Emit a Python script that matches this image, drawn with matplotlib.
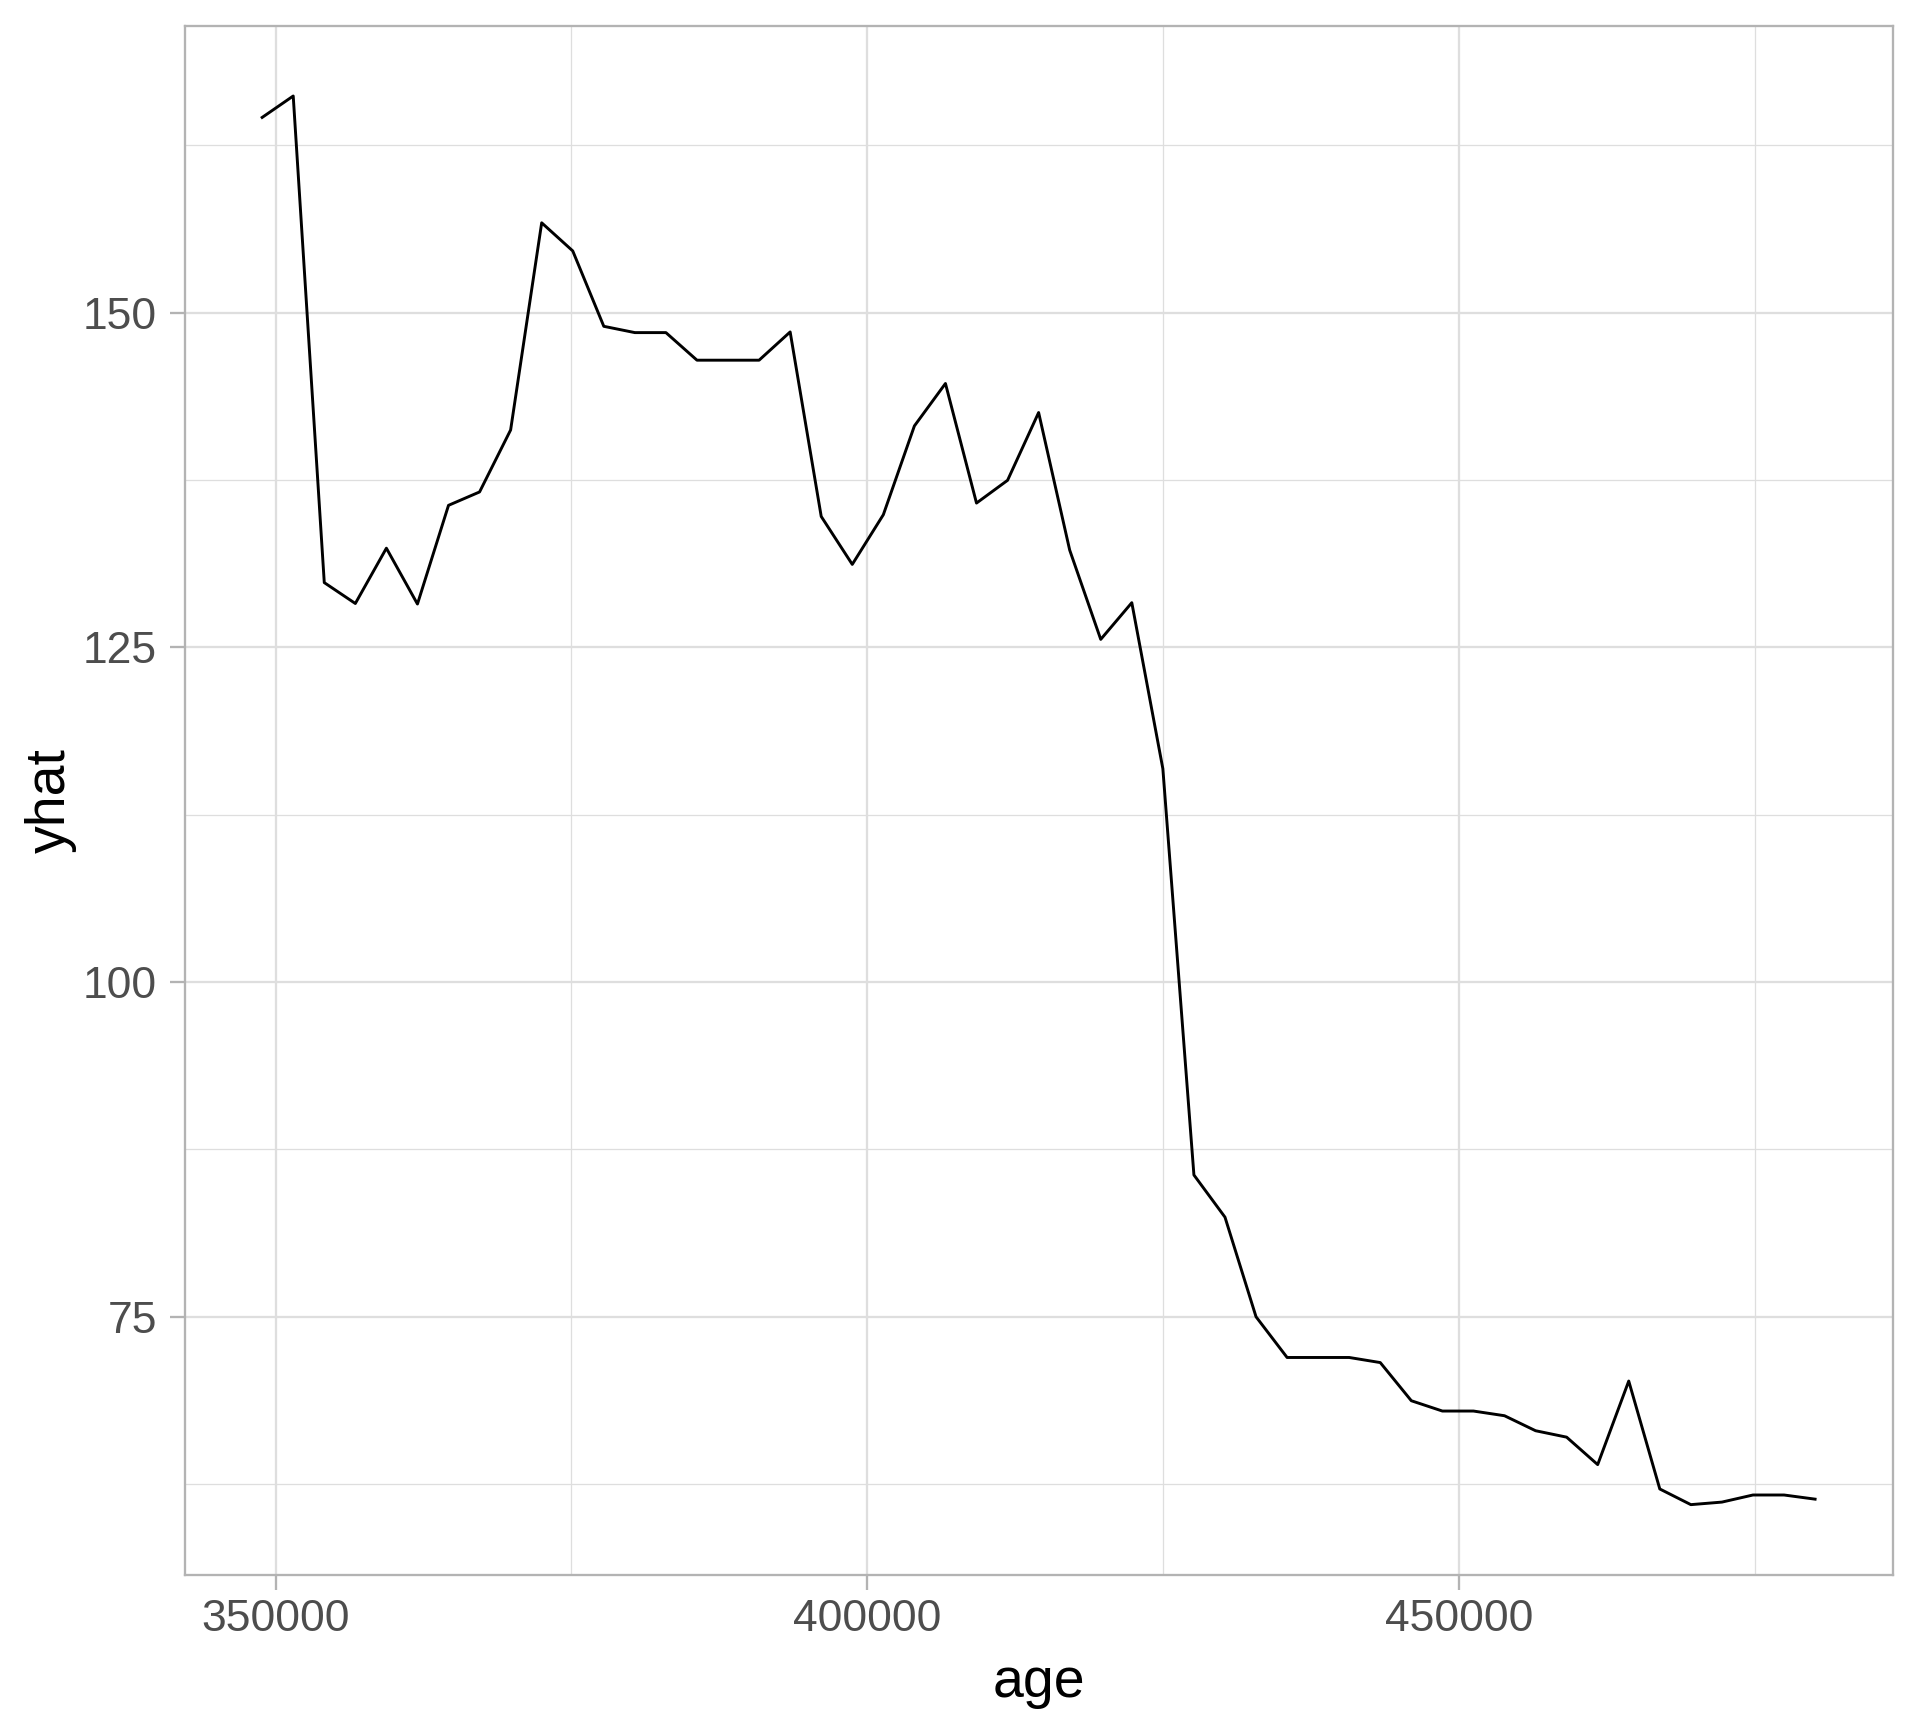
import matplotlib
matplotlib.use("Agg")
import matplotlib.pyplot as plt
import numpy as np

# values
age = [348860, 351485, 354110, 356735, 359360, 361985, 364610, 367235, 369860, 372485,
       375110, 377735, 380360, 382985, 385610, 388235, 390860, 393485, 396110, 398735,
       401360, 403985, 406610, 409235, 411860, 414485, 417110, 419735, 422360, 424985,
       427610, 430235, 432860, 435485, 438110, 440735, 443360, 445985, 448610, 451235,
       453860, 456485, 459110, 461735, 464360, 466985, 469610, 472235, 474860, 477485,
       480110]
yhat = [164.57, 166.17, 129.83, 128.27, 132.40, 128.23, 135.60, 136.60, 141.23, 156.70,
        154.60, 148.97, 148.50, 148.50, 146.44, 146.44, 146.44, 148.55, 134.77, 131.19,
        134.90, 141.53, 144.70, 135.77, 137.47, 142.53, 132.26, 125.59, 128.33, 115.93,
        85.59, 82.44, 75.00, 71.96, 71.96, 71.96, 71.58, 68.73, 67.96, 67.96,
        67.61, 66.49, 66.01, 63.96, 70.20, 62.14, 60.97, 61.16, 61.69, 61.69,
        61.38]

x_ticks = [350000, 400000, 450000]
x_minor = [375000, 425000, 475000]
y_ticks = [75, 100, 125, 150]
y_minor = [62.5, 87.5, 112.5, 137.5, 162.5]

plt.rcParams['font.family'] = ['Liberation Sans', 'DejaVu Sans']

fig = plt.figure(figsize=(6.4, 5.76), dpi=300)
ax = fig.add_axes([0.0961, 0.0885, 0.8897, 0.8967])

# ggplot style 5% expansion
xr = max(age) - min(age)
yr = max(yhat) - min(yhat)
ax.set_xlim(min(age) - 0.05 * xr, max(age) + 0.05 * xr)
ax.set_ylim(min(yhat) - 0.05 * yr, max(yhat) + 0.05 * yr)

grid_col = '#DEDEDE'
for v in x_minor:
    ax.axvline(v, color=grid_col, lw=0.3, zorder=0)
for v in y_minor:
    ax.axhline(v, color=grid_col, lw=0.3, zorder=0)
for v in x_ticks:
    ax.axvline(v, color=grid_col, lw=0.55, zorder=0)
for v in y_ticks:
    ax.axhline(v, color=grid_col, lw=0.55, zorder=0)

ax.plot(age, yhat, color='black', lw=0.7, zorder=3)

ax.set_xticks(x_ticks)
ax.set_xticklabels([str(t) for t in x_ticks])
ax.set_yticks(y_ticks)
ax.set_yticklabels([str(t) for t in y_ticks])
ax.tick_params(axis='both', length=3.6, width=0.55, color='#B3B3B3',
               labelsize=10.7, labelcolor='#4D4D4D')
ax.tick_params(axis='y', pad=3.0)
ax.tick_params(axis='x', pad=2.2)

for s in ax.spines.values():
    s.set_color('#B3B3B3')
    s.set_linewidth(0.55)

ax.set_xlabel('age', fontsize=13.3, color='black', labelpad=4)
ax.set_ylabel('yhat', fontsize=13.3, color='black', labelpad=1.5)

fig.savefig('out.png', dpi=300)
